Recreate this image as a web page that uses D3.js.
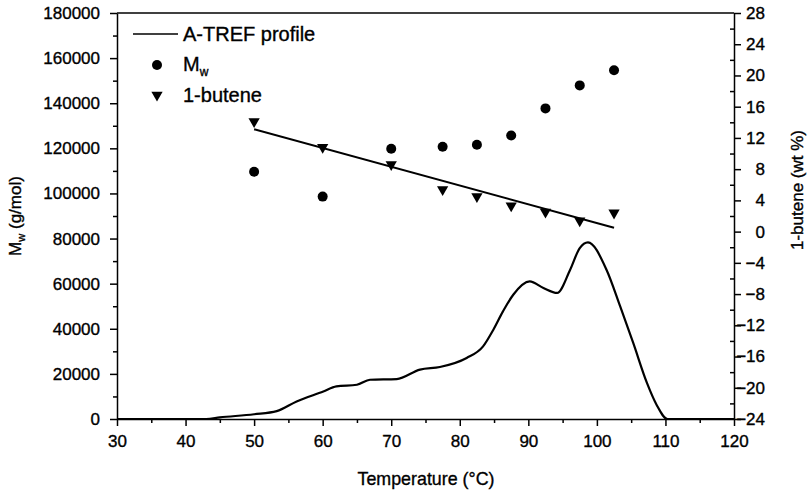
<!DOCTYPE html>
<html>
<head>
<meta charset="utf-8">
<script src="https://cdn.jsdelivr.net/npm/d3@7"></script>
<style>
    body { margin: 0; background: #fff; }
    svg { display: block; font-family: "Liberation Sans", Arial, sans-serif; }
    text { stroke: #000; stroke-width: 0.35px; }
    .tick text { font-size: 17px; fill: #000; }
    .domain, .tick line { stroke: #000; stroke-width: 1.5; }
</style>
</head>
<body>
<svg id="chart" width="809" height="493"></svg>
<script>
/* Data */
let fracTemps = [50, 60, 70, 77.5, 82.5, 87.5, 92.5, 97.5, 102.5];
let mwValues = [109600, 98600, 119800, 120700, 121600, 125700, 137700, 147900, 154600];
let buteneValues = [14.1, 10.8, 8.6, 5.4, 4.5, 3.3, 2.5, 1.4, 2.4];

// straight line through the 1-butene points
let fitTemps = [50, 102.5];
let fitButene = [13.1, 0.5];

// A-TREF profile (plotted against the left axis)
let profileTemps = [30, 43, 45, 50, 53.3, 56.2, 60.1, 62, 65, 66.9, 70.8, 74.2, 77.1, 81, 83.4,
    84.9, 86.3, 87.8, 90.2, 92.2, 94.2, 96.1, 97.5, 98.7, 101.4, 103.4, 105.3, 107.3, 108.7, 110.3, 120];
let profileValues = [0, 0, 700, 2100, 3500, 7800, 12200, 14450, 15200, 17400, 17700, 21900, 23050, 27050, 32200,
    39600, 47700, 55100, 61000, 58100, 55900, 66200, 75800, 78300, 66200, 49900, 33700, 16000, 6340, 0, 0];

let xTicks = [30, 40, 50, 60, 70, 80, 90, 100, 110, 120];
let leftTicks = [0, 20000, 40000, 60000, 80000, 100000, 120000, 140000, 160000, 180000];
let rightTicks = [-24, -20, -16, -12, -8, -4, 0, 4, 8, 12, 16, 20, 24, 28];

let svg = d3.select("#chart");
let plotLeft = 117, plotRight = 734, plotTop = 13, plotBottom = 419;

let x = d3.scaleLinear().domain([30, 120]).range([plotLeft, plotRight]);
let yL = d3.scaleLinear().domain([0, 180000]).range([plotBottom, plotTop]);
let yR = d3.scaleLinear().domain([-24, 28]).range([plotBottom, plotTop]);

/* Minor ticks first so the major ones sit on top */
svg.append("g")
    .attr("transform", "translate(0," + plotBottom + ")")
    .call(d3.axisBottom(x).tickValues(d3.range(35, 120, 10)).tickSize(4).tickFormat(""))
    .call(g => g.select(".domain").remove());
svg.append("g")
    .attr("transform", "translate(" + plotLeft + ",0)")
    .call(d3.axisLeft(yL).tickValues(d3.range(10000, 180000, 20000)).tickSize(4).tickFormat(""))
    .call(g => g.select(".domain").remove());
svg.append("g")
    .attr("transform", "translate(" + plotRight + ",0)")
    .call(d3.axisLeft(yR).tickValues(d3.range(-22, 28, 4)).tickSize(4).tickFormat(""))
    .call(g => g.select(".domain").remove());

/* Main axes */
svg.append("g")
    .attr("transform", "translate(0," + plotBottom + ")")
    .call(d3.axisBottom(x).tickValues(xTicks).tickSize(7).tickSizeOuter(0).tickPadding(9));
svg.append("g")
    .attr("transform", "translate(" + plotLeft + ",0)")
    .call(d3.axisLeft(yL).tickValues(leftTicks).tickFormat(d3.format("d"))
        .tickSize(7).tickSizeOuter(0).tickPadding(10));
let rAxis = svg.append("g")
    .attr("transform", "translate(" + plotRight + ",0)")
    .call(d3.axisRight(yR).tickValues(rightTicks).tickFormat(d3.format("d"))
        .tickSize(7).tickSizeOuter(0).tickPadding(6));
rAxis.selectAll(".tick text").attr("text-anchor", "end").attr("x", 31);

// top frame
svg.append("line")
    .attr("x1", plotLeft).attr("x2", plotRight)
    .attr("y1", plotTop).attr("y2", plotTop)
    .attr("stroke", "#000").attr("stroke-width", 1.5);

/* Axis titles */
svg.append("text")
    .attr("x", 426).attr("y", 485)
    .attr("text-anchor", "middle")
    .attr("font-size", 19)
    .attr("textLength", 137).attr("lengthAdjust", "spacingAndGlyphs")
    .text("Temperature (°C)");

let yTitle = svg.append("text")
    .attr("transform", "translate(21,216) rotate(-90)")
    .attr("text-anchor", "middle")
    .attr("font-size", 17);
yTitle.append("tspan").text("M");
yTitle.append("tspan").attr("font-size", 11).attr("dy", 4).text("w");
yTitle.append("tspan").attr("dy", -4).text(" (g/mol)");

svg.append("text")
    .attr("transform", "translate(803,190) rotate(-90)")
    .attr("text-anchor", "middle")
    .attr("font-size", 17)
    .text("1-butene (wt %)");

/* Profile curve */
let profile = profileTemps.map((t, i) => [t, profileValues[i]]);
svg.append("path")
    .datum(profile)
    .attr("fill", "none")
    .attr("stroke", "#000")
    .attr("stroke-width", 2.2)
    .attr("d", d3.line()
        .x(d => x(d[0]))
        .y(d => yL(d[1]))
        .curve(d3.curveMonotoneX));

/* Fit line through 1-butene */
svg.append("line")
    .attr("x1", x(fitTemps[0])).attr("y1", yR(fitButene[0]))
    .attr("x2", x(fitTemps[1])).attr("y2", yR(fitButene[1]))
    .attr("stroke", "#000").attr("stroke-width", 2);

/* Mw points */
svg.append("g")
    .selectAll("circle")
    .data(fracTemps)
    .enter().append("circle")
    .attr("cx", d => x(d))
    .attr("cy", (d, i) => yL(mwValues[i]))
    .attr("r", 5)
    .attr("fill", "#000");

/* 1-butene points, downward triangles */
let tri = d3.symbol().type(d3.symbolTriangle).size(55);
svg.append("g")
    .selectAll("path")
    .data(fracTemps)
    .enter().append("path")
    .attr("d", tri)
    .attr("transform", (d, i) => "translate(" + x(d) + "," + yR(buteneValues[i]) + ") rotate(180)")
    .attr("fill", "#000");

/* Legend */
let legend = svg.append("g").attr("font-size", 20);
legend.append("line")
    .attr("x1", 133).attr("x2", 178)
    .attr("y1", 34).attr("y2", 34)
    .attr("stroke", "#000").attr("stroke-width", 1.5);
legend.append("text").attr("x", 183).attr("y", 41).text("A-TREF profile");

legend.append("circle").attr("cx", 157).attr("cy", 65).attr("r", 5).attr("fill", "#000");
let mwText = legend.append("text").attr("x", 183).attr("y", 71);
mwText.append("tspan").text("M");
mwText.append("tspan").attr("font-size", 12).attr("dy", 5).text("w");

legend.append("path")
    .attr("d", tri)
    .attr("transform", "translate(157,95) rotate(180)")
    .attr("fill", "#000");
legend.append("text").attr("x", 183).attr("y", 102).text("1-butene");
</script>
</body>
</html>
